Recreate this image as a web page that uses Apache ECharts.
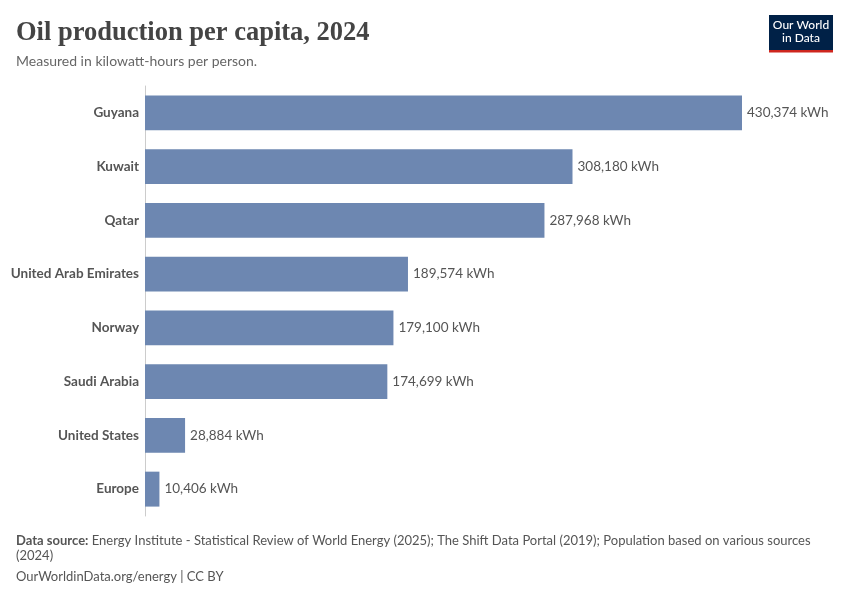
<!DOCTYPE html>
<html>
<head>
<meta charset="utf-8">
<script src="https://cdn.jsdelivr.net/npm/echarts@6/dist/echarts.min.js"></script>
<style>html,body{margin:0;padding:0;background:#fff;}#c{width:850px;height:600px;}</style>
</head>
<body>
<div id="c"></div>
<script>
const categories = ["Guyana","Kuwait","Qatar","United Arab Emirates","Norway","Saudi Arabia","United States","Europe"];
const values = [430374, 308180, 287968, 189574, 179100, 174699, 28884, 10406];
const unit = " kWh";

const chart = echarts.init(document.getElementById('c'));
chart.setOption({
  backgroundColor: '#fff',
  animation: false,
  grid: { left: 145, right: 108, top: 86, height: 430 },
  xAxis: {
    type: 'value', min: 0, max: 430374,
    show: false
  },
  yAxis: {
    type: 'category', data: categories, inverse: true,
    axisLine: { show: true, lineStyle: { color: '#cccccc', width: 1 } },
    axisTick: { show: false },
    axisLabel: { color: '#555', fontFamily: 'Lato', fontWeight: 'bold', fontSize: 13.5, margin: 6 },
    splitLine: { show: false }
  },
  series: [{
    type: 'bar', data: values, barCategoryGap: '35%',
    itemStyle: { color: '#6d87b1' },
    label: {
      show: true, position: 'right', distance: 5,
      color: '#555', fontFamily: 'Lato', fontSize: 13.5,
      formatter: p => p.value.toLocaleString('en-US') + unit
    }
  }],
  graphic: [
    { type: 'text', left: 16, top: 20, style: { text: 'Oil production per capita, 2024', font: 'bold 26.5px "Liberation Serif", serif', fill: '#444' } },
    { type: 'text', left: 16, top: 54, style: { text: 'Measured in kilowatt-hours per person.', font: '14px Lato', fill: '#666' } },
    { type: 'rect', shape: { x: 769, y: 15, width: 64, height: 35 }, style: { fill: '#002147' } },
    { type: 'rect', shape: { x: 769, y: 50, width: 64, height: 2.5 }, style: { fill: '#ce261e' } },
    { type: 'text', x: 801, y: 32, style: { text: 'Our World\nin Data', font: '500 12px Lato', fill: '#fff', align: 'center', verticalAlign: 'middle', lineHeight: 13 } },
    { type: 'text', left: 16, top: 533, style: { rich: { b: { font: 'bold 13px Lato', fill: '#555' }, n: { font: '13px Lato', fill: '#555' } }, text: '{b|Data source:} {n|Energy Institute - Statistical Review of World Energy (2025); The Shift Data Portal (2019); Population based on various sources}\n{n|(2024)}', lineHeight: 15 } },
    { type: 'text', left: 16, top: 570, style: { text: 'OurWorldinData.org/energy | CC BY', font: '13px Lato', fill: '#555' } }
  ]
});
</script>
</body>
</html>
